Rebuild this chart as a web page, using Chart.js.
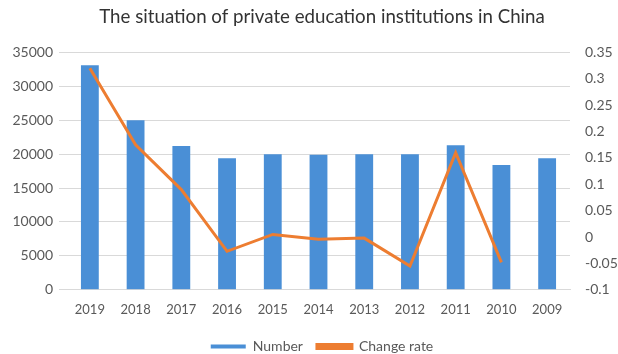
<!DOCTYPE html>
<html>
<head>
<meta charset="utf-8">
<script src="https://cdn.jsdelivr.net/npm/chart.js@4"></script>
<style>
  html, body { margin: 0; padding: 0; background: #fff; }
  #wrap { width: 618px; height: 354px; }
</style>
</head>
<body>
<div id="wrap"><canvas id="chart" width="618" height="354"></canvas></div>
<script>
// data
const years = ["2019", "2018", "2017", "2016", "2015", "2014", "2013", "2012", "2011", "2010", "2009"];
const numbers = [33100, 25000, 21200, 19400, 20000, 19900, 20000, 20000, 21300, 18400, 19400];
const changeRate = [0.32, 0.175, 0.09, -0.027, 0.005, -0.004, -0.002, -0.055, 0.16, -0.048, null];

const FONT = "Lato, 'Open Sans', sans-serif";
const grey = "#595959";

new Chart(document.getElementById("chart"), {
  data: {
    labels: years,
    datasets: [
      {
        type: "bar", label: "Number", data: numbers, yAxisID: "y",
        backgroundColor: "#4a8fd6", barPercentage: 0.39, categoryPercentage: 1, order: 1,
      },
      {
        type: "line", label: "Change rate", data: changeRate, yAxisID: "y2",
        borderColor: "#ed7d31", backgroundColor: "#ed7d31", borderWidth: 3,
        pointRadius: 0, tension: 0, order: 0,
      },
    ],
  },
  options: {
    responsive: false,
    animation: false,
    // negative right/bottom padding: centres title/legend like the original and drops the legend low
    layout: { padding: { left: 0, right: -26, top: 6, bottom: -9.4 } },
    plugins: {
      title: {
        display: true, text: "The situation of private education institutions in China",
        color: "#333", font: { family: FONT, size: 18.7, weight: "normal" }, padding: { top: 0, bottom: 24 },
      },
      legend: {
        position: "bottom",
        labels: {
          color: grey, font: { family: FONT, size: 14 }, boxWidth: 35, boxHeight: 4,
          padding: 14, sort: (a, b) => a.datasetIndex - b.datasetIndex,
        },
      },
      tooltip: { enabled: false },
    },
    scales: {
      x: {
        grid: { display: false },
        border: { color: "#d9d9d9" },
        ticks: { color: grey, font: { family: FONT, size: 13 }, maxRotation: 0, padding: 4 },
        afterFit: s => { s.height = 35.6; },
      },
      y: {
        position: "left", min: 0, max: 35000,
        ticks: { stepSize: 5000, color: grey, font: { family: FONT, size: 14 }, callback: v => String(v), padding: 6 },
        grid: { color: "#d9d9d9" },
        border: { display: false },
        afterFit: s => { s.width = 67; },
      },
      y2: {
        position: "right", min: -0.1, max: 0.35,
        ticks: { stepSize: 0.05, color: grey, font: { family: FONT, size: 14 }, callback: v => String(Number(v.toFixed(2))), padding: 7 },
        grid: { drawOnChartArea: false, display: false },
        border: { display: false },
        afterFit: s => { s.width = 74; },
      },
    },
  },
});
</script>
</body>
</html>
